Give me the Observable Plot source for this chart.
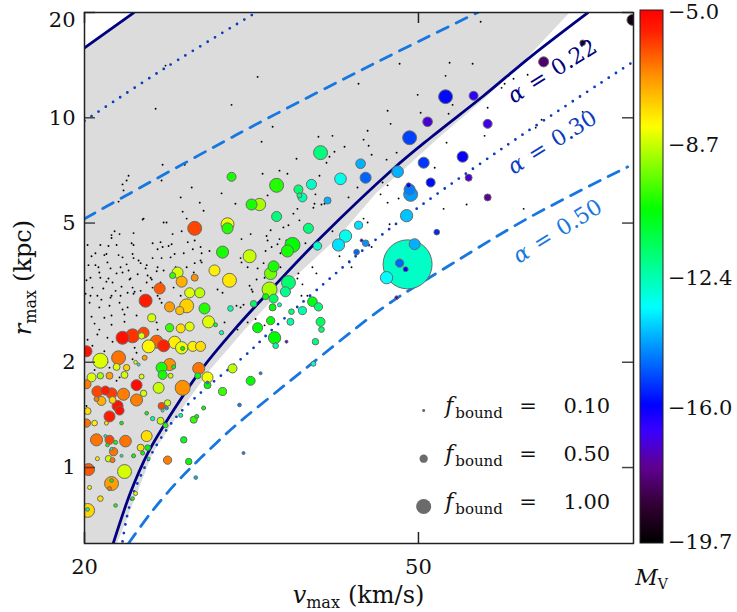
<!DOCTYPE html>
<html>
<head>
<meta charset="utf-8">
<script src="https://cdn.jsdelivr.net/npm/d3@7"></script>
<script src="https://cdn.jsdelivr.net/npm/@observablehq/plot@0.6"></script>
<style>
  html,body{margin:0;padding:0;background:#fff;}
  #chart svg{display:block;}
</style>
</head>
<body>
<div id="chart"></div>
<script>
// ---------------- data ----------------
const xTicks = [20, 50];
const yTicks = [1, 2, 5, 10, 20];
const colorbarTicks = [-5.0, -8.7, -12.4, -16.0, -19.7];
const alphaValues = ["0.22", "0.30", "0.50"];
const legendF = [0.10, 0.50, 1.00];

// model curves [vmax, rmax]
const solidUpper = [[20, 15.85], [22.88, 19.95]];
const solidLower = [[21.64,0.607],[22.69,0.848],[23.78,1.096],[25.52,1.455],[27.50,1.893],[30.17,2.479],[33.96,3.378],[38.22,4.54],[46.67,7.15],[51.68,8.77],[59.79,11.56],[68.0,14.94],[79.53,19.95]];
const dottedUpper = [[20, 9.80], [24.98, 13.9], [31.8, 19.8]];
const dottedLower = [[22.2,0.615],[22.87,0.843],[25.52,1.362],[31.54,2.159],[33.67,2.512],[37.86,3.226],[45.56,4.692],[63.85,8.37],[89.73,14.36]];
const dashedUpper = [[20,5.145],[30.35,8.94],[44.94,14.55],[57.06,19.31],[59.30,20.2]];
const dashedLower = [[22.57,0.607],[23.98,0.741],[25.68,0.900],[27.50,1.064],[30.17,1.310],[33.33,1.595],[37.17,1.969],[45.56,2.884],[54.59,3.80],[68.0,5.21],[88.77,7.24]];
// shaded band outline
const shadedRegion = [[20,15.85],[22.88,20],[75.69,20],[65.82,13.99],[60.45,11.56],[52.84,8.77],[48.12,7.15],[44.56,6.105],[40.04,4.54],[35.0,3.378],[31.03,2.479],[28.18,1.893],[26.04,1.455],[24.1,1.096],[21.87,0.6065],[20,0.6065]];

// satellites: [vmax, rmax, M_V, f_bound]
const satellites = [
[27.06,4.83,-6.0,0.92],[29.61,4.96,-8.3,0.85],[29.61,4.83,-10.2,0.70],[29.21,4.13,-10.3,0.78],[28.57,3.66,-8.0,0.70],
[29.77,3.43,-7.9,0.92],[25.82,3.61,-8.6,0.70],[25.47,3.54,-10.0,0.33],[26.11,3.40,-7.2,0.70],[27.06,3.49,-6.8,0.40],
[24.58,3.25,-6.2,0.70],[26.69,3.16,-8.5,0.63],[27.44,3.16,-8.8,0.63],[23.65,3.00,-5.5,0.85],[26.47,2.90,-7.6,0.92],
[25.26,2.88,-7.0,0.63],[25.97,2.81,-7.4,0.48],[27.80,2.85,-10.2,0.70],[29.85,2.85,-12.3,0.30],[24.05,2.68,-8.6,0.48],
[28.11,2.61,-8.5,0.78],[28.65,2.56,-11.0,0.18],[25.26,2.51,-10.0,0.50],[26.04,2.50,-7.8,0.55],[26.69,2.53,-8.5,0.55],
[29.13,2.43,-12.5,0.20],[22.20,2.35,-5.3,0.85],[22.82,2.38,-5.8,0.92],[23.52,2.43,-6.0,0.70],[23.39,2.38,-8.5,0.36],
[24.38,2.29,-6.3,0.85],[24.85,2.23,-5.6,0.78],[25.61,2.28,-8.0,0.80],[23.85,2.22,-8.1,0.85],[26.11,2.20,-8.4,0.80],
[26.18,2.19,-10.5,0.18],[26.92,2.22,-8.0,0.63],[27.50,2.22,-7.8,0.63],[23.59,2.06,-7.0,0.25],[20.89,2.02,-8.5,1.00],
[21.96,2.06,-6.5,0.92],[21.84,1.94,-8.5,0.40],[22.45,1.93,-7.6,0.36],[23.01,2.00,-8.5,0.15],[23.20,1.97,-12.5,0.10],
[20.11,2.15,-5.3,0.70],[25.26,1.97,-6.8,0.78],[25.54,1.94,-10.5,0.18],[24.71,1.93,-10.3,0.70],[27.36,1.92,-6.5,0.78],
[30.02,1.92,-8.8,0.55],
[20.39,1.81,-8.5,0.55],[20.89,1.83,-9.0,0.36],[21.42,1.83,-7.0,0.40],[22.32,1.84,-8.6,0.40],[23.39,1.82,-8.6,0.25],
[24.78,1.84,-10.3,0.55],[25.33,1.83,-8.8,0.25],[24.51,1.69,-8.7,0.70],[26.18,1.69,-6.8,1.00],[23.07,1.72,-5.2,0.70],
[23.52,1.63,-8.6,0.36],[20.72,1.65,-6.0,0.70],[21.18,1.66,-5.5,0.55],[21.54,1.63,-5.9,0.70],[22.26,1.62,-6.6,0.78],
[20.67,1.57,-6.6,0.25],[20.95,1.55,-7.2,0.55],[21.60,1.56,-7.7,0.40],[21.90,1.50,-5.3,0.70],[23.07,1.56,-6.6,0.78],
[24.71,1.50,-6.0,0.40],[25.05,1.48,-14.3,0.15],[25.12,1.53,-8.7,0.36],[24.78,1.455,-12.2,0.10],[20.17,1.45,-7.8,0.40],
[21.42,1.40,-5.5,0.70],[22.02,1.455,-5.3,0.55],[23.72,1.43,-10.5,0.15],[24.11,1.38,-12.3,0.20],[24.64,1.36,-8.7,0.40],
[24.98,1.32,-10.3,0.25],[26.04,1.41,-12.2,0.18],[20.11,1.34,-6.5,0.50],[20.56,1.34,-8.0,0.30],[21.24,1.34,-7.9,0.18],
[22.14,1.34,-10.5,0.15],[20.67,1.20,-6.5,0.78],[21.18,1.23,-12.3,0.10],[21.42,1.20,-6.0,0.55],[21.78,1.18,-10.3,0.18],
[22.38,1.19,-6.5,0.75],[23.72,1.23,-7.8,0.70],[21.54,1.13,-12.3,0.10],[21.30,1.16,-10.5,0.15],[21.66,1.11,-6.5,0.50],
[21.36,1.06,-8.7,0.36],[21.60,1.05,-6.5,0.25],[22.14,1.08,-12.3,0.10],[23.33,1.14,-7.8,0.40],[23.78,1.14,-10.5,0.30],
[23.46,1.10,-10.5,0.18],[22.88,1.08,-10.5,0.18],[20.72,1.06,-8.0,0.18],[23.85,1.06,-12.3,0.10],[25.12,1.05,-6.6,0.50],
[26.26,1.20,-10.8,0.36],[26.62,1.04,-10.5,0.36],[27.14,0.936,-14.0,0.15],[20.22,0.987,-6.2,0.78],[22.32,0.974,-8.6,0.92],
[21.54,0.900,-7.0,0.92],[21.54,0.918,-10.5,0.15],[21.42,0.871,-6.5,0.18],[20.28,0.877,-8.0,0.18],[20.89,0.815,-7.8,0.30],
[23.01,0.843,-8.5,0.18],[22.82,0.815,-10.3,0.15],[21.78,0.779,-10.3,0.15],[20.17,0.754,-7.7,0.92],[20.17,0.759,-12.4,0.15],
[27.29,1.83,-10.8,0.33],[28.03,1.81,-8.3,0.70],[28.03,1.72,-10.5,0.40],[28.03,1.75,-14.5,0.10],[29.21,1.65,-10.0,0.48],
[27.73,1.48,-10.5,0.18],[27.21,1.40,-10.5,0.18],[26.99,1.37,-10.0,0.40],[20.11,1.73,-6.6,0.55],
[31.63,5.65,-10.3,0.70],[32.33,5.65,-9.0,0.80],[33.88,5.22,-11.8,0.63],[36.07,6.00,-11.8,0.25],[36.37,5.92,-12.4,0.55],
[38.96,5.80,-14.0,0.40],[36.97,4.83,-11.8,0.63],[35.39,4.33,-10.5,1.00],[34.90,4.16,-10.3,0.78],[37.90,4.30,-12.7,0.50],
[31.46,4.02,-8.7,0.85],[33.60,3.76,-10.3,0.70],[33.33,3.59,-9.5,0.80],[35.00,3.38,-11.7,0.92],[34.71,3.18,-12.0,0.63],
[33.23,3.23,-9.0,1.00],[32.87,3.08,-10.5,0.33],[33.60,3.04,-11.5,0.55],[34.15,2.92,-12.5,0.18],[33.51,2.87,-10.5,0.40],
[31.81,2.94,-11.5,0.36],[37.38,2.98,-10.7,0.60],[38.00,2.88,-11.7,0.50],[36.37,2.81,-12.3,0.48],[35.29,2.79,-11.8,0.30],
[35.19,2.61,-12.3,0.40],[33.33,2.63,-10.5,0.50],[38.22,2.61,-11.5,0.55],[38.32,2.48,-11.7,0.30],[32.16,2.51,-10.5,0.63],
[33.69,2.35,-10.5,0.80],[33.79,2.23,-12.3,0.30],[34.81,2.29,-17.0,0.10],[37.69,2.29,-11.8,0.36],[37.48,1.98,-12.8,0.25],
[42.42,4.93,-13.5,0.48],[40.93,4.59,-13.0,0.80],[40.15,4.33,-13.5,0.80],[42.78,4.46,-16.3,0.10],[43.25,4.38,-14.3,0.36],
[42.19,4.13,-14.8,0.30],
[38.22,7.95,-11.8,0.92],[42.66,7.39,-14.0,0.60],[43.25,6.74,-14.8,0.70],[40.37,6.69,-13.0,0.75],[37.28,6.45,-12.6,0.63],
[33.88,6.41,-10.2,0.92],[35.97,6.24,-11.7,0.55],[29.94,6.78,-10.3,0.55],
[53.86,11.49,-15.8,0.92],[58.17,11.56,-16.5,0.55],[70.49,14.45,-18.0,0.63],[78.46,16.38,-19.0,0.30],[89.94,19.05,-19.3,0.70],
[51.27,9.74,-17.0,0.60],[60.45,9.61,-16.8,0.55],[48.80,8.77,-15.2,0.92],[56.44,7.74,-16.0,0.70],[50.72,7.44,-15.3,0.70],
[47.22,7.01,-14.0,0.75],[57.38,6.74,-17.0,0.40],[51.70,6.53,-15.8,0.55],[48.67,6.41,-16.0,0.25],[48.94,6.04,-14.2,0.92],
[48.80,6.24,-14.5,0.70],[60.45,5.92,-17.5,0.40],[48.40,5.25,-13.8,0.80],[52.57,4.71,-15.5,0.30],[49.48,4.35,-14.0,0.70],
[48.53,3.81,-12.6,3.55],[47.48,3.84,-14.8,0.50],[48.27,3.69,-16.0,0.25],[45.81,3.49,-13.2,0.80],[47.09,3.06,-17.0,0.15],
[32.42,1.86,-14.5,0.10],[30.60,1.51,-14.5,0.15],[30.94,1.10,-14.5,0.10],[31.55,1.77,-10.5,0.55]
];

// dark subhaloes: [vmax, rmax]
const subhalos = [
[24.98,14.1],[24.31,10.61],[29.94,10.89],[24.78,7.34],[26.33,7.34],[22.57,6.83],[22.45,6.62],[22.20,6.45],[24.71,6.62],[26.84,6.32],
[22.26,6.20],[26.04,5.92],[27.44,5.72],[27.73,5.42],[29.13,6.08],[30.26,5.68],[23.52,5.15],[24.85,5.02],[25.05,5.02],[26.47,5.15],
[21.54,4.53],[21.72,4.74],[22.02,4.65],[22.88,4.68],[20.17,4.33],[20.89,4.33],[21.36,4.30],[21.84,4.33],[22.76,4.38],[24.11,4.38],
[24.78,4.27],[25.19,4.30],[26.55,4.41],[27.50,4.27],[20.61,4.10],[21.12,4.05],[22.20,3.99],[22.88,3.97],[24.11,3.97],[25.33,3.99],
[26.26,4.10],[27.50,3.91],[20.22,3.79],[20.78,3.74],[21.48,3.71],[22.08,3.74],[22.57,3.66],[23.20,3.91],[23.33,3.84],[23.65,3.71],
[24.44,3.74],[24.85,3.66],[25.68,3.74],[26.99,3.61],[20.33,3.49],[20.89,3.49],[21.36,3.47],[22.69,3.47],[23.98,3.49],[24.64,3.38],
[20.44,3.27],[21.06,3.25],[21.78,3.20],[22.82,3.27],[23.33,3.20],[24.11,3.27],[25.54,3.27],[20.06,3.14],[20.72,3.10],[21.48,3.06],
[22.08,3.10],[22.88,3.14],[24.44,3.10],[26.04,3.10],[27.73,3.14],[21.96,5.76],[26.18,5.39],[23.46,5.12],[21.54,4.62],[25.47,4.65],
[26.11,4.74],[22.88,4.33],[24.64,4.41],[25.40,4.35],[27.06,4.46],[20.39,4.02],[21.24,4.08],[21.96,4.05],[22.82,4.08],[24.44,4.21],
[25.61,4.08],[26.92,4.21],[27.58,4.10],[28.18,4.16],[23.72,3.79],[24.71,3.97],[20.61,3.79],[21.30,3.86],[22.45,3.81],[26.47,3.74],
[27.06,3.84],[27.58,3.86],[20.83,3.61],[21.84,3.59],[22.20,3.61],[22.63,3.45],[23.14,3.57],[23.78,3.54],[24.05,3.45],[24.38,3.64],
[20.11,3.43],[21.24,3.40],[21.60,3.38],[22.14,3.29],[23.72,3.38],[20.33,3.10],[20.95,3.02],[21.54,3.10],[22.02,2.96],[22.51,3.16],
[22.95,3.18],[24.58,3.04],[24.71,2.96],[28.81,3.23],[20.28,2.96],[20.83,2.87],[21.42,2.90],[22.20,2.83],[22.51,2.87],[20.39,2.70],
[21.12,2.68],[21.54,2.72],[22.32,2.74],[23.07,2.72],[20.56,2.58],[20.83,2.48],[21.54,2.56],[22.32,2.61],[24.38,2.60],[24.44,2.48],
[20.17,2.32],[20.72,2.40],[21.30,2.35],[21.60,2.29],[20.44,2.23],[21.12,2.15],[22.95,2.20],[23.07,2.13],[20.67,2.06],[21.30,2.00],
[22.82,2.04],[20.56,1.90],[21.42,1.93],[29.21,3.16],[29.37,2.60],
[32.16,13.09],[42.42,12.51],[33.51,9.43],[32.51,8.54],[38.00,8.83],[39.49,8.88],[40.82,8.26],[39.71,8.00],[39.17,7.74],[38.85,7.44],
[35.78,7.64],[34.15,7.06],[34.90,6.92],[32.60,6.92],[38.11,6.83],[43.49,9.18],[43.01,8.66],[43.61,8.32],[43.97,7.84],[45.31,6.53],
[59.30,18.81],[54.46,14.36],[58.01,14.27],[47.48,14.27],[53.86,13.18],[45.94,10.47],[50.30,10.34],[54.31,10.27],[47.35,5.88],[45.94,5.72],
[41.27,5.92],[42.30,6.32],[38.64,5.68],[37.59,5.68],[35.87,5.49],[36.07,5.09],[35.48,5.32],[34.52,4.86],[33.33,4.77],[33.05,4.46],
[33.42,4.27],[35.48,4.33],[36.67,4.38],[37.90,4.24],[43.01,5.15],[43.49,5.02],[34.24,4.10],[32.69,3.84],[34.24,3.74],[35.97,3.59],
[35.39,3.40],[32.78,3.49],[57.06,5.65],[53.57,5.49],[66.73,5.49],[59.95,8.88],[68.97,9.37],[64.02,13.18],[64.90,12.93],[60.45,10.68],
[49.89,11.63],[54.91,10.89],[46.32,9.61],[54.01,8.49],[52.28,7.20],[47.09,7.95],[78.46,10.40],[70.10,9.87],[62.81,12.18],[67.46,13.27],
[63.33,12.51],[46.19,4.96],[45.94,6.41],[45.81,7.59],[33.05,6.00],[37.69,6.04],[37.48,5.53],[38.32,5.65],[35.00,4.93],[39.49,4.74],
[34.81,4.46],[34.15,4.50],[31.55,4.65],[30.77,4.50],[32.96,4.59],[33.96,4.35],[32.87,4.16],[30.77,3.86],[31.29,3.74],[32.16,3.71],
[30.69,3.97],[35.87,3.47],[36.37,3.34],[37.79,3.59],[37.38,3.74],[31.63,3.23],[32.07,3.45],[31.72,3.18],[31.46,3.31],[36.27,3.10],
[36.87,3.10],[30.94,2.92],[30.35,2.90],[30.69,2.87],[31.98,2.66],[31.29,2.60],[30.43,2.48],[32.78,2.55],[41.61,3.74],[41.38,3.86],
[40.26,4.02],[43.97,4.27],[45.06,6.04],[20.17,1.69],[21.84,1.77],[20.11,1.50],[20.28,1.78],[22.02,1.81]
];

// colour map of M_V (piecewise stops)
const colorStops = [-19.7, -18.7, -17.6, -16.6, -15.9, -14.5, -13.2, -10.5, -8.2, -6.8, -5.6, -5.0];
const colorRange = ["#000000", "#300030", "#600090", "#3a00ff", "#0000ff", "#0080ff", "#00ffff", "#00ff00", "#ffff00", "#ff9000", "#ff2000", "#ff0000"];

// annotation anchors (data coordinates)
const alphaLabelPos = [[72.4, 13.45], [72.4, 8.43], [73.45, 4.69]];
const legendRowR = [1.455, 1.06, 0.774];
const legendV = 50.72;

// ---------------- layout ----------------
const W = 737, H = 612, ML = 84, MR = 104, MT = 12, MB = 69;
const IW = W - ML - MR, IH = H - MT - MB;
const TICK = 11;
const FONT = "DejaVu Serif";
const NAVY = "#000080", DOT_BLUE = "#0b3cbf", DASH_BLUE = "#1677e0";

const xy = {x: d => d[0], y: d => d[1]};
const sats = d3.sort(satellites, d => -d[3]);

const chart = Plot.plot({
  width: W, height: H,
  marginLeft: ML, marginRight: MR, marginTop: MT, marginBottom: MB,
  style: {fontFamily: FONT, fontSize: "21px", background: "#fff", color: "#111"},
  x: {type: "log", domain: [20, 90.2]},
  y: {type: "log", domain: [0.6065, 20]},
  r: {type: "linear", domain: [0, 1], range: [0.83, 7.5]},
  color: {type: "linear", domain: colorStops, range: colorRange, interpolate: "rgb"},
  marks: [
    Plot.line(shadedRegion, {...xy, fill: "#dcdcdc", stroke: "none", clip: true}),
    Plot.dot(subhalos, {...xy, r: 0.95, fill: "#000", stroke: "none", clip: true}),
    Plot.line(dashedUpper, {...xy, stroke: DASH_BLUE, strokeWidth: 2.8, strokeDasharray: "12,9", clip: true, curve: "catmull-rom"}),
    Plot.line(dashedLower, {...xy, stroke: DASH_BLUE, strokeWidth: 2.8, strokeDasharray: "12,9", clip: true, curve: "catmull-rom"}),
    Plot.line(dottedUpper, {...xy, stroke: DOT_BLUE, strokeWidth: 2.8, strokeDasharray: "0,8.6", strokeLinecap: "round", clip: true, curve: "catmull-rom"}),
    Plot.line(dottedLower, {...xy, stroke: DOT_BLUE, strokeWidth: 2.8, strokeDasharray: "0,8.6", strokeLinecap: "round", clip: true, curve: "catmull-rom"}),
    Plot.line(solidUpper, {...xy, stroke: NAVY, strokeWidth: 2.8, clip: true}),
    Plot.line(solidLower, {...xy, stroke: NAVY, strokeWidth: 2.8, clip: true, curve: "catmull-rom"}),
    Plot.dot(sats, {x: d => d[0], y: d => d[1], r: d => d[3], fill: d => d[2], stroke: "#6a6a6a", strokeWidth: 1, clip: true, sort: null}),
    Plot.dot(legendF, {x: () => legendV, y: (d, i) => legendRowR[i], r: d => d, fill: "#6b6b6b", stroke: "none"}),
    Plot.tickY(yTicks, {y: d => d, insetRight: IW - TICK, stroke: "#444", strokeWidth: 1.5}),
    Plot.tickY(yTicks, {y: d => d, insetLeft: IW - TICK, stroke: "#444", strokeWidth: 1.5}),
    Plot.tickX(xTicks, {x: d => d, insetTop: IH - TICK, stroke: "#222", strokeWidth: 1.5}),
    Plot.tickX(xTicks, {x: d => d, insetBottom: IH - TICK, stroke: "#222", strokeWidth: 1.5}),
    Plot.frame({stroke: "#222", strokeWidth: 1.5}),
    Plot.axisY(yTicks.filter(d => d < 20), {anchor: "left", tickSize: 0, tickPadding: 9, tickFormat: d => String(d), fontSize: 21, label: null}),
    Plot.axisY([20], {anchor: "left", tickSize: 0, tickPadding: 9, tickFormat: d => String(d), fontSize: 21, dy: 8, label: null}),
    Plot.axisX(xTicks, {anchor: "bottom", tickSize: 0, tickPadding: 16, tickFormat: d => String(d), fontSize: 21, label: null})
  ]
});
document.getElementById("chart").appendChild(chart);

// ---------------- annotations ----------------
const svg = d3.select(chart);
const xs = chart.scale("x"), ys = chart.scale("y"), cs = chart.scale("color");
const X = v => xs.apply(v), Y = r => ys.apply(r);
const colorOf = m => (cs && cs.apply) ? cs.apply(m) : d3.scaleLinear(colorStops, colorRange).interpolate(d3.interpolateRgb)(m);

// colour bar (drawn first so that labels sit above it)
const CB_X = 640, CB_W = 23, CB_TOP = 10, CB_BOT = 543;
const cmin = d3.min(colorbarTicks), cmax = d3.max(colorbarTicks);
const grad = svg.append("defs").append("linearGradient").attr("id", "cbgrad")
  .attr("x1", 0).attr("y1", 1).attr("x2", 0).attr("y2", 0);
d3.range(0, 1.0001, 0.01).forEach(t => {
  grad.append("stop").attr("offset", t).attr("stop-color", colorOf(cmin + t * (cmax - cmin)));
});
svg.append("rect").attr("x", CB_X).attr("y", CB_TOP).attr("width", CB_W).attr("height", CB_BOT - CB_TOP)
  .attr("fill", "url(#cbgrad)").attr("stroke", "#222").attr("stroke-width", 1);

const g = svg.append("g").attr("font-family", FONT).attr("fill", "#111").attr("text-anchor", "start");

// axis titles
const yt = g.append("text").attr("transform", `translate(31,${MT + IH / 2}) rotate(-90)`)
  .attr("text-anchor", "middle").attr("font-size", 24);
yt.append("tspan").attr("font-style", "italic").text("r");
yt.append("tspan").attr("font-size", 16).attr("dy", 5).text("max");
yt.append("tspan").attr("dy", -5).attr("dx", 8).text("(kpc)");

const xt = g.append("text").attr("x", ML + IW / 2).attr("y", 603)
  .attr("text-anchor", "middle").attr("font-size", 24);
xt.append("tspan").attr("font-style", "italic").text("v");
xt.append("tspan").attr("font-size", 16).attr("dy", 5).text("max");
xt.append("tspan").attr("dy", -5).attr("dx", 8).text("(km/s)");

// alpha labels
const alphaColors = [NAVY, DOT_BLUE, DASH_BLUE];
alphaValues.forEach((a, i) => {
  const [v, r] = alphaLabelPos[i];
  const t = g.append("text")
    .attr("transform", `translate(${X(v)},${Y(r)}) rotate(-32)`)
    .attr("text-anchor", "middle").attr("dominant-baseline", "middle")
    .attr("font-size", 22).attr("fill", alphaColors[i]);
  t.append("tspan").attr("font-style", "italic").text("α");
  t.append("tspan").attr("dx", 9).text("=");
  t.append("tspan").attr("dx", 9).text(a);
});

// f_bound legend text
legendF.forEach((f, i) => {
  const y0 = Y(legendRowR[i]) + 3, x0 = X(legendV);
  const t = g.append("text").attr("x", x0 + 22).attr("y", y0).attr("font-size", 22).attr("text-anchor", "start");
  t.append("tspan").attr("font-style", "italic").text("f");
  t.append("tspan").attr("font-size", 15).attr("dy", 5).attr("dx", 2).text("bound");
  g.append("text").attr("x", x0 + 96).attr("y", y0).attr("font-size", 21).attr("text-anchor", "start").text("=");
  g.append("text").attr("x", x0 + 187).attr("y", y0).attr("font-size", 21).attr("text-anchor", "end").text(f.toFixed(2));
});

// colour bar labels
const cbY = d3.scaleLinear().domain([cmax, cmin]).range([CB_TOP + 3, CB_BOT]);
colorbarTicks.forEach(d => {
  g.append("text").attr("x", CB_X + CB_W + 5).attr("y", cbY(d)).attr("dominant-baseline", "middle")
    .attr("text-anchor", "start").attr("font-size", 21).text("\u2212" + Math.abs(d).toFixed(1));
});
const mv = g.append("text").attr("x", CB_X + CB_W / 2).attr("y", 585).attr("text-anchor", "middle").attr("font-size", 22);
mv.append("tspan").attr("font-style", "italic").text("M");
mv.append("tspan").attr("font-size", 14).attr("dy", 4).text("V");
</script>
</body>
</html>
